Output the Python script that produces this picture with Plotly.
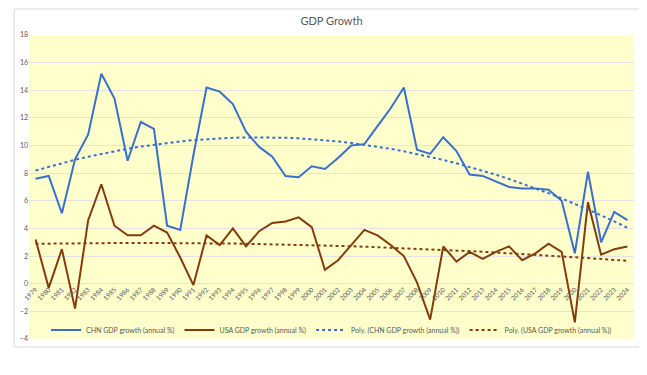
import numpy as np
import plotly.graph_objects as go

years = list(range(1979, 2025))
chn_growth = [7.6, 7.8, 5.1, 9.0, 10.8, 15.2, 13.4, 8.9, 11.7, 11.2,
              4.2, 3.9, 9.3, 14.2, 13.9, 13.0, 11.0, 9.9, 9.2, 7.8,
              7.7, 8.5, 8.3, 9.1, 10.0, 10.1, 11.4, 12.7, 14.2, 9.7,
              9.4, 10.6, 9.6, 7.9, 7.8, 7.4, 7.0, 6.9, 6.9, 6.8,
              6.0, 2.2, 8.1, 3.0, 5.2, 4.6]
usa_growth = [3.2, -0.3, 2.5, -1.8, 4.6, 7.2, 4.2, 3.5, 3.5, 4.2,
              3.7, 1.9, -0.1, 3.5, 2.8, 4.0, 2.7, 3.8, 4.4, 4.5,
              4.8, 4.1, 1.0, 1.7, 2.8, 3.9, 3.5, 2.8, 2.0, 0.1,
              -2.6, 2.7, 1.6, 2.3, 1.8, 2.3, 2.7, 1.7, 2.2, 2.9,
              2.3, -2.8, 5.9, 2.1, 2.5, 2.7]
tick_labels = [str(y) for y in years]
y_ticks = list(range(-4, 19, 2))

# Excel-style order-2 polynomial trendlines fitted on the data
idx = np.arange(1, len(years) + 1)
chn_trend = np.polyval(np.polyfit(idx, chn_growth, 2), idx)
usa_trend = np.polyval(np.polyfit(idx, usa_growth, 2), idx)

BLUE = "#3A6FCB"
BROWN = "#843C0C"
TXT = "#595959"

fig = go.Figure()
fig.add_trace(go.Scatter(x=years, y=chn_growth, mode="lines",
                         name="CHN GDP growth (annual %)",
                         line=dict(color=BLUE, width=2)))
fig.add_trace(go.Scatter(x=years, y=usa_growth, mode="lines",
                         name="USA GDP growth (annual %)",
                         line=dict(color=BROWN, width=2)))
fig.add_trace(go.Scatter(x=years, y=chn_trend, mode="lines",
                         name="Poly. (CHN GDP growth (annual %))",
                         line=dict(color=BLUE, width=2, dash="dot")))
fig.add_trace(go.Scatter(x=years, y=usa_trend, mode="lines",
                         name="Poly. (USA GDP growth (annual %))",
                         line=dict(color=BROWN, width=2, dash="dot")))

W, H = 647, 375
ml, mr, mt, mb = 16, 21, 27, 44
pw, ph = W - ml - mr, H - mt - mb
ymin, ymax = -4, 18
zero_pos = (0 - ymin) / (ymax - ymin)

def px_x(p):
    return (p - ml) / pw

def px_y(p):
    return (H - mb - p) / ph

fig.update_layout(
    width=W, height=H,
    margin=dict(l=ml, r=mr, t=mt, b=mb),
    paper_bgcolor="white",
    plot_bgcolor="#FFFFCC",
    font=dict(family="Lato, Liberation Sans, sans-serif", color=TXT, size=7),
    title=dict(text="GDP Growth", x=0.5, xanchor="center",
               y=1 - 13 / H, yanchor="middle", yref="container",
               font=dict(size=11, color=TXT)),
    showlegend=True,
    legend=dict(orientation="h", x=0.5, xanchor="center",
                y=px_y(322), yanchor="middle",
                bgcolor="rgba(0,0,0,0)", font=dict(size=7, color=TXT),
                itemwidth=30, tracegroupgap=0),
    xaxis=dict(range=[1978.5, 2024.5], tickmode="array",
               tickvals=years, ticktext=tick_labels, tickangle=-45,
               showgrid=False, zeroline=False, showline=False,
               anchor="free", position=zero_pos,
               tickfont=dict(size=6.5, color=TXT), ticks=""),
    yaxis=dict(range=[ymin, ymax], tickmode="array", tickvals=y_ticks,
               showgrid=True, gridcolor="#E3E3E3", gridwidth=1.3,
               zeroline=False, showline=False, ticks="",
               tickfont=dict(size=7, color=TXT)),
    shapes=[dict(type="rect", xref="paper", yref="paper",
                 x0=px_x(1), x1=px_x(646), y0=px_y(339), y1=px_y(1),
                 line=dict(color="#D9D9D9", width=1), layer="below")],
)

fig.write_html("out.html")
